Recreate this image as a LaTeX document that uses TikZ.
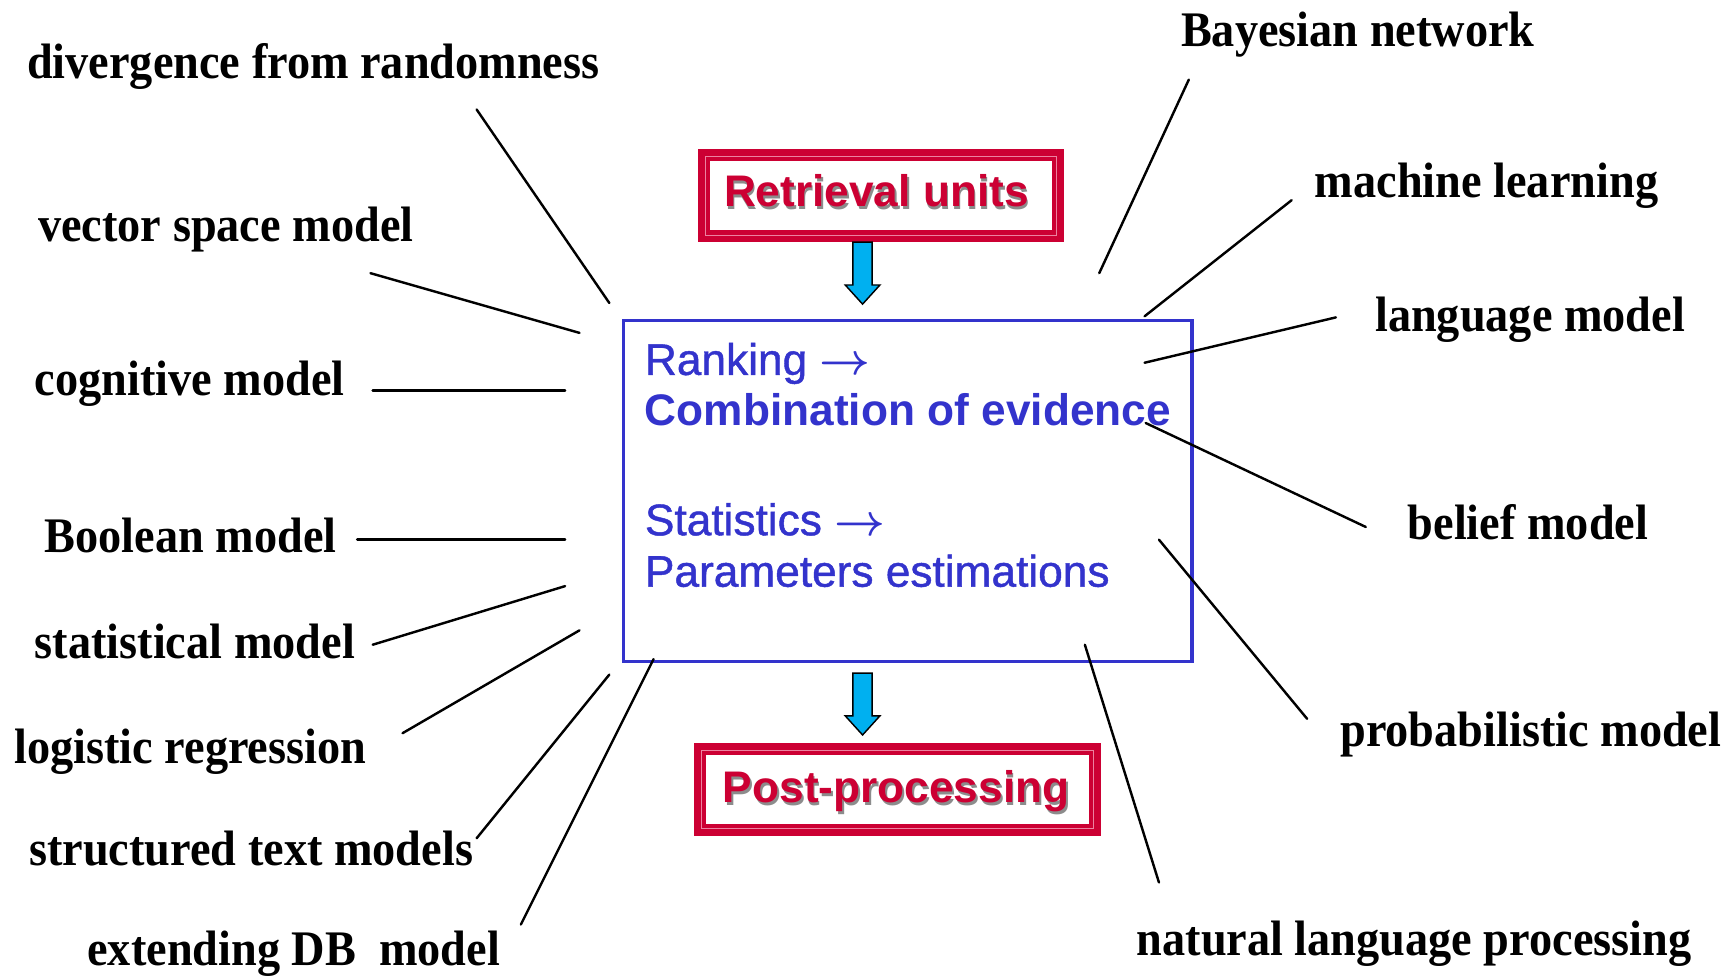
\documentclass[tikz,border=0pt]{standalone}
\usepackage{fix-cm}
\usepackage{fontspec}
\setmainfont{Liberation Serif}
\newfontfamily\labfont{Liberation Serif}[FakeStretch=0.93]
\newfontfamily\boxfont{Liberation Sans}[FakeBold=1]
\newfontfamily\boxboldfont{Liberation Sans Bold}
\usetikzlibrary{calc}
\definecolor{coreblue}{RGB}{51,51,204}
\definecolor{unitred}{RGB}{204,0,51}
\definecolor{unitpink}{RGB}{236,130,160}
\definecolor{arrowcyan}{RGB}{0,176,240}
\newcommand{\leadsarrow}{{\boldmath$\rightarrow$}}

\begin{document}
\begin{tikzpicture}[x=1pt,y=-1pt,
  lab/.style={anchor=base west, inner sep=0pt, outer sep=0pt,
    font=\labfont\bfseries\fontsize{45}{50}\selectfont},
  spoke/.style={line width=2.2pt, black, line cap=round},
  corebox/.style={draw=coreblue, line width=3pt, inner sep=0pt, outer sep=0pt},
  coretext/.style={anchor=base west, inner sep=0pt, text=coreblue,
    font=\boxfont\fontsize{40}{44}\selectfont},
  unitbox/.style={fill=unitred, inner sep=0pt, outer sep=0pt},
  unittext/.style={anchor=base west, inner sep=0pt, text=unitred,
    font=\boxboldfont\fontsize{40}{44}\selectfont},
  unitshadow/.style={unittext, text=black!45},
  fatarrow/.pic={
    \filldraw[fill=arrowcyan, draw=black, line width=1.3pt, line join=miter]
      (-8.7,0) -- (8.7,0) -- (8.7,38.7) -- (15.7,38.7) -- (0,56)
      -- (-15.7,38.7) -- (-8.7,38.7) -- cycle;}
]
\useasboundingbox (0,0) rectangle (1568,884);

% central box with its four lines of text
\node[corebox, anchor=north west, minimum width=514pt, minimum height=308pt]
  (core) at (564,290) {};
\node[coretext] (rank) at (583,339) {Ranking \leadsarrow};
\node[coretext, font=\boxboldfont\fontsize{40}{44}\selectfont] (comb) at (583,384.5) {Combination of evidence};
\node[coretext] (stat) at (583,484) {Statistics \leadsarrow};
\node[coretext] (param) at (583,530.5) {Parameters estimations};

% framed red boxes
\node[unitbox, anchor=north west, minimum width=331pt, minimum height=84pt] (retr) at (631,135) {};
\node[unitbox, anchor=north west, minimum width=368pt, minimum height=84pt] (post) at (627.5,672) {};
\foreach \b in {retr,post}{
  \fill[white] ($(\b.north west)+(11,11)$) rectangle ($(\b.south east)+(-11,-11)$);
  \draw[unitpink, line width=0.9pt] ($(\b.north west)+(6.5,6.5)$) rectangle ($(\b.south east)+(-6.5,-6.5)$);
}
\node[unitshadow] at (656,189) {Retrieval units};
\node[unittext] (retrtext) at (654.5,187) {Retrieval units};
\node[unitshadow] at (655,728) {Post-processing};
\node[unittext] (posttext) at (653.5,726) {Post-processing};

% flow arrows
\pic at (780,219) {fatarrow};
\pic at (780,608.6) {fatarrow};

% model labels
\node[lab] (dfr)  at (24.5,70.8)  {divergence from randomness};
\node[lab] (vsm)  at (34.5,218.5) {vector space model};
\node[lab] (cog)  at (31.5,357.5) {cognitive model};
\node[lab] (bool) at (40.5,500)   {Boolean model};
\node[lab] (stm)  at (31.5,595)   {statistical model};
\node[lab] (logr) at (13,690)     {logistic regression};
\node[lab] (stx)  at (26.5,783)   {structured text models};
\node[lab] (edb)  at (79,873)     {extending DB\ \ model};
\node[lab] (bay)  at (1068,42.2)  {Bayesian network};
\node[lab] (ml)   at (1189,179)   {machine learning};
\node[lab] (lm)   at (1243.5,300) {language model};
\node[lab] (bel)  at (1273,487.6) {belief model};
\node[lab] (prob) at (1212,675)   {probabilistic model};
\node[lab] (nlp)  at (1028,863.6) {natural language processing};

% spoke end points
\coordinate (dfr-a) at (431,99);    \coordinate (dfr-b) at (551,274);
\coordinate (vsm-a) at (335,247);   \coordinate (vsm-b) at (524,301);
\coordinate (cog-a) at (337,353);   \coordinate (cog-b) at (511,353);
\coordinate (bool-a) at (323,488);  \coordinate (bool-b) at (511,488);
\coordinate (stm-a) at (337,583);   \coordinate (stm-b) at (511,530);
\coordinate (logr-a) at (364,663);  \coordinate (logr-b) at (524,570);
\coordinate (stx-a) at (431,758);   \coordinate (stx-b) at (551,610);
\coordinate (edb-a) at (471,836);   \coordinate (edb-b) at (591,596);
\coordinate (bay-a) at (1075,72);   \coordinate (bay-b) at (994,247);
\coordinate (ml-a) at (1168,181);   \coordinate (ml-b) at (1035,286);
\coordinate (lm-a) at (1208,287);   \coordinate (lm-b) at (1035,328);
\coordinate (bel-a) at (1235,476.5);\coordinate (bel-b) at (1036,382.5);
\coordinate (prob-a) at (1182,650); \coordinate (prob-b) at (1048,488);
\coordinate (nlp-a) at (1048,798);  \coordinate (nlp-b) at (981,583);

\foreach \s in {dfr,vsm,cog,bool,stm,logr,stx,edb,bay,ml,lm,bel,prob,nlp}
  \draw[spoke] (\s-a) -- (\s-b);
\end{tikzpicture}
\end{document}
